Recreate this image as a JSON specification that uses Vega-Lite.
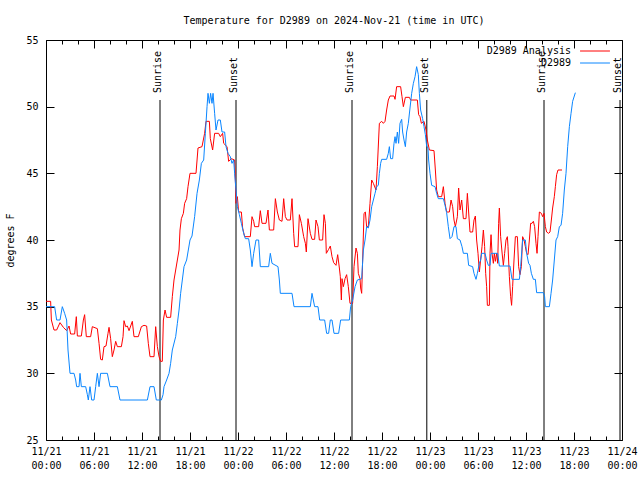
{
 "$schema": "https://vega.github.io/schema/vega-lite/v6.json",
 "width": 576,
 "height": 400,
 "autosize": {"type": "none"},
 "padding": {"left": 46, "top": 40, "right": 18, "bottom": 40},
 "background": "white",
 "title": {"text": "Temperature for D2989 on 2024-Nov-21 (time in UTC)", "font": "DejaVu Sans Mono", "fontSize": 10, "fontWeight": "normal", "anchor": "middle", "offset": 9, "color": "black"},
 "config": {
  "view": {"stroke": "black", "strokeWidth": 1},
  "font": "DejaVu Sans Mono",
  "axis": {"domainColor": "black", "tickColor": "black", "labelColor": "black", "titleColor": "black", "labelFont": "DejaVu Sans Mono", "titleFont": "DejaVu Sans Mono", "labelFontSize": 10, "titleFontSize": 10, "titleFontWeight": "normal", "grid": false}
 },
 "datasets": {
  "analysis": [
   {"hour":0,"degF":35.4},{"hour":0.58,"degF":35.4},{"hour":0.67,"degF":34.0},{"hour":1.0,"degF":33.25},{"hour":1.33,"degF":33.25},{"hour":1.75,"degF":33.8},{"hour":2.17,"degF":33.45},{"hour":2.58,"degF":33.2},{"hour":2.88,"degF":33.55},{"hour":3.08,"degF":32.95},{"hour":3.58,"degF":32.95},{"hour":3.79,"degF":34.25},{"hour":3.92,"degF":32.8},{"hour":4.42,"degF":32.8},{"hour":4.67,"degF":34.0},{"hour":4.83,"degF":34.4},{"hour":5.04,"degF":32.75},{"hour":5.58,"degF":32.75},{"hour":5.79,"degF":33.5},{"hour":6.42,"degF":33.35},{"hour":6.63,"degF":32.25},{"hour":6.83,"degF":31.05},{"hour":7.04,"degF":31.0},{"hour":7.25,"degF":32.0},{"hour":7.5,"degF":32.05},{"hour":7.75,"degF":33.0},{"hour":7.88,"degF":33.45},{"hour":8.08,"degF":32.6},{"hour":8.29,"degF":31.25},{"hour":8.5,"degF":31.75},{"hour":8.71,"degF":32.4},{"hour":8.92,"degF":32.0},{"hour":9.42,"degF":32.0},{"hour":9.63,"degF":32.75},{"hour":9.75,"degF":33.95},{"hour":9.96,"degF":33.5},{"hour":10.17,"degF":33.55},{"hour":10.38,"degF":33.2},{"hour":10.79,"degF":33.9},{"hour":11.0,"degF":32.75},{"hour":11.54,"degF":32.75},{"hour":11.92,"degF":33.5},{"hour":12.25,"degF":33.6},{"hour":12.58,"degF":33.55},{"hour":12.79,"degF":32.25},{"hour":13.0,"degF":31.25},{"hour":13.5,"degF":31.25},{"hour":13.71,"degF":33.5},{"hour":13.92,"degF":32.0},{"hour":14.13,"degF":31.25},{"hour":14.33,"degF":30.9},{"hour":14.54,"degF":30.9},{"hour":14.67,"degF":34.0},{"hour":14.88,"degF":34.75},{"hour":15.08,"degF":34.2},{"hour":15.58,"degF":34.2},{"hour":15.79,"degF":35.75},{"hour":16.0,"degF":37.0},{"hour":16.21,"degF":37.75},{"hour":16.42,"degF":38.5},{"hour":16.63,"degF":39.25},{"hour":16.75,"degF":40.75},{"hour":16.92,"degF":41.6},{"hour":17.17,"degF":42.0},{"hour":17.33,"degF":42.75},{"hour":17.58,"degF":43.1},{"hour":17.75,"degF":44.0},{"hour":18.0,"degF":45.0},{"hour":18.75,"degF":45.0},{"hour":19.0,"degF":46.9},{"hour":19.5,"degF":47.0},{"hour":19.83,"degF":48.0},{"hour":20.0,"degF":48.9},{"hour":20.42,"degF":48.9},{"hour":20.54,"degF":47.6},{"hour":20.83,"degF":46.75},{"hour":21.08,"degF":48.0},{"hour":21.58,"degF":48.0},{"hour":21.79,"degF":47.75},{"hour":22.08,"degF":48.0},{"hour":22.21,"degF":47.25},{"hour":22.63,"degF":47.0},{"hour":22.83,"degF":45.9},{"hour":23.17,"degF":46.1},{"hour":23.58,"degF":46.0},{"hour":23.67,"degF":44.5},{"hour":23.75,"degF":42.75},{"hour":23.92,"degF":43.25},{"hour":24.08,"degF":42.1},{"hour":24.42,"degF":42.1},{"hour":24.58,"degF":40.9},{"hour":24.83,"degF":40.25},{"hour":25.54,"degF":40.25},{"hour":25.75,"degF":41.75},{"hour":25.96,"degF":41.4},{"hour":26.08,"degF":41.0},{"hour":26.58,"degF":41.0},{"hour":26.79,"degF":42.2},{"hour":27.0,"degF":41.25},{"hour":27.5,"degF":41.25},{"hour":27.75,"degF":42.25},{"hour":27.92,"degF":40.75},{"hour":28.46,"degF":40.75},{"hour":28.67,"degF":43.1},{"hour":28.92,"degF":42.1},{"hour":29.17,"degF":41.5},{"hour":29.5,"degF":41.4},{"hour":29.71,"degF":43.1},{"hour":29.92,"degF":41.75},{"hour":30.13,"degF":41.5},{"hour":30.54,"degF":41.5},{"hour":30.75,"degF":43.1},{"hour":30.96,"degF":40.5},{"hour":31.08,"degF":39.5},{"hour":31.5,"degF":39.5},{"hour":31.67,"degF":41.9},{"hour":31.92,"degF":41.25},{"hour":32.21,"degF":40.25},{"hour":32.42,"degF":39.75},{"hour":32.54,"degF":39.1},{"hour":32.75,"degF":41.6},{"hour":33.04,"degF":40.5},{"hour":33.25,"degF":40.05},{"hour":33.58,"degF":40.05},{"hour":33.75,"degF":41.5},{"hour":34.0,"degF":41.0},{"hour":34.17,"degF":40.0},{"hour":34.58,"degF":40.0},{"hour":34.75,"degF":41.9},{"hour":34.92,"degF":41.25},{"hour":35.04,"degF":39.0},{"hour":35.33,"degF":39.3},{"hour":35.54,"degF":39.55},{"hour":35.75,"degF":38.75},{"hour":35.96,"degF":38.3},{"hour":36.25,"degF":38.1},{"hour":36.46,"degF":38.9},{"hour":36.67,"degF":37.9},{"hour":36.79,"degF":37.25},{"hour":36.92,"degF":35.5},{"hour":37.0,"degF":37.1},{"hour":37.17,"degF":36.5},{"hour":37.38,"degF":37.1},{"hour":37.58,"degF":37.4},{"hour":37.79,"degF":36.5},{"hour":38.0,"degF":35.25},{"hour":38.33,"degF":35.25},{"hour":38.5,"degF":38.0},{"hour":38.75,"degF":39.4},{"hour":38.92,"degF":39.0},{"hour":39.04,"degF":37.5},{"hour":39.25,"degF":37.1},{"hour":39.33,"degF":36.4},{"hour":39.46,"degF":36.0},{"hour":39.58,"degF":38.5},{"hour":39.75,"degF":42.0},{"hour":39.92,"degF":42.1},{"hour":40.08,"degF":41.0},{"hour":40.29,"degF":41.0},{"hour":40.5,"degF":42.75},{"hour":40.71,"degF":44.5},{"hour":40.92,"degF":44.25},{"hour":41.25,"degF":43.75},{"hour":41.42,"degF":45.5},{"hour":41.67,"degF":48.75},{"hour":41.96,"degF":48.9},{"hour":42.17,"degF":48.75},{"hour":42.38,"degF":48.9},{"hour":42.58,"degF":49.75},{"hour":42.79,"degF":50.5},{"hour":43.0,"degF":50.8},{"hour":43.5,"degF":50.8},{"hour":43.63,"degF":50.55},{"hour":43.83,"degF":51.5},{"hour":44.33,"degF":51.5},{"hour":44.5,"degF":50.75},{"hour":44.67,"degF":50.0},{"hour":44.92,"degF":50.7},{"hour":45.42,"degF":50.7},{"hour":45.58,"degF":50.5},{"hour":46.42,"degF":50.5},{"hour":46.58,"degF":49.4},{"hour":46.75,"degF":49.25},{"hour":46.92,"degF":48.75},{"hour":47.25,"degF":48.9},{"hour":47.5,"degF":48.25},{"hour":47.67,"degF":47.5},{"hour":47.92,"degF":46.75},{"hour":48.5,"degF":46.7},{"hour":48.67,"degF":45.25},{"hour":48.83,"degF":43.75},{"hour":49.04,"degF":43.25},{"hour":49.46,"degF":43.25},{"hour":49.67,"degF":44.0},{"hour":49.88,"degF":42.75},{"hour":50.08,"degF":42.1},{"hour":50.42,"degF":42.1},{"hour":50.63,"degF":43.0},{"hour":50.83,"degF":42.5},{"hour":51.0,"degF":41.5},{"hour":51.17,"degF":41.0},{"hour":51.42,"degF":41.75},{"hour":51.58,"degF":43.9},{"hour":51.75,"degF":42.25},{"hour":51.96,"degF":43.0},{"hour":52.17,"degF":41.6},{"hour":52.5,"degF":41.6},{"hour":52.67,"degF":43.5},{"hour":52.83,"degF":42.1},{"hour":53.0,"degF":40.6},{"hour":53.33,"degF":40.6},{"hour":53.5,"degF":41.5},{"hour":53.67,"degF":41.8},{"hour":53.83,"degF":40.0},{"hour":54.0,"degF":39.0},{"hour":54.17,"degF":37.6},{"hour":54.33,"degF":38.5},{"hour":54.5,"degF":39.5},{"hour":54.67,"degF":40.75},{"hour":54.83,"degF":39.5},{"hour":54.96,"degF":37.5},{"hour":55.08,"degF":36.5},{"hour":55.17,"degF":35.1},{"hour":55.42,"degF":35.1},{"hour":55.5,"degF":39.0},{"hour":55.63,"degF":40.4},{"hour":55.75,"degF":39.0},{"hour":55.92,"degF":38.25},{"hour":56.04,"degF":39.0},{"hour":56.17,"degF":38.4},{"hour":56.33,"degF":39.0},{"hour":56.46,"degF":38.25},{"hour":56.58,"degF":41.25},{"hour":56.67,"degF":42.4},{"hour":56.83,"degF":40.25},{"hour":57.0,"degF":39.1},{"hour":57.17,"degF":38.1},{"hour":57.33,"degF":39.0},{"hour":57.5,"degF":40.0},{"hour":57.67,"degF":40.25},{"hour":57.75,"degF":39.5},{"hour":57.92,"degF":37.25},{"hour":58.08,"degF":35.75},{"hour":58.2,"degF":35.1},{"hour":58.33,"degF":36.5},{"hour":58.5,"degF":38.5},{"hour":58.67,"degF":40.25},{"hour":58.92,"degF":40.25},{"hour":59.08,"degF":38.0},{"hour":59.25,"degF":37.4},{"hour":59.42,"degF":38.0},{"hour":59.58,"degF":40.25},{"hour":59.75,"degF":40.0},{"hour":59.92,"degF":39.5},{"hour":60.08,"degF":39.0},{"hour":60.25,"degF":38.9},{"hour":60.42,"degF":40.0},{"hour":60.58,"degF":41.25},{"hour":60.75,"degF":41.25},{"hour":60.92,"degF":41.4},{"hour":61.08,"degF":41.0},{"hour":61.25,"degF":39.75},{"hour":61.38,"degF":39.0},{"hour":61.5,"degF":40.25},{"hour":61.67,"degF":42.1},{"hour":61.92,"degF":42.0},{"hour":62.08,"degF":41.75},{"hour":62.25,"degF":42.0},{"hour":62.42,"degF":41.0},{"hour":62.58,"degF":40.6},{"hour":62.83,"degF":40.5},{"hour":63.0,"degF":40.6},{"hour":63.17,"degF":41.5},{"hour":63.33,"degF":42.4},{"hour":63.54,"degF":43.25},{"hour":63.67,"degF":44.0},{"hour":63.83,"degF":44.9},{"hour":64.0,"degF":45.25},{"hour":64.5,"degF":45.25}
  ],
  "station": [
   {"hour":0,"degF":35},{"hour":1.08,"degF":35},{"hour":1.33,"degF":34},{"hour":1.75,"degF":34},{"hour":2.04,"degF":35},{"hour":2.33,"degF":34.5},{"hour":2.58,"degF":34},{"hour":2.75,"degF":31.75},{"hour":3.0,"degF":30},{"hour":3.5,"degF":30},{"hour":3.71,"degF":29.5},{"hour":3.83,"degF":29},{"hour":4.13,"degF":29},{"hour":4.25,"degF":30},{"hour":4.42,"degF":29},{"hour":4.96,"degF":29},{"hour":5.17,"degF":28.4},{"hour":5.29,"degF":28},{"hour":5.5,"degF":29},{"hour":5.71,"degF":28},{"hour":6.0,"degF":28},{"hour":6.21,"degF":29},{"hour":6.42,"degF":30},{"hour":6.63,"degF":29},{"hour":6.83,"degF":30},{"hour":7.67,"degF":30},{"hour":8.0,"degF":29},{"hour":8.92,"degF":29},{"hour":9.25,"degF":28},{"hour":12.67,"degF":28},{"hour":13.0,"degF":29},{"hour":13.5,"degF":29},{"hour":13.79,"degF":28},{"hour":14.42,"degF":28},{"hour":14.63,"degF":28.4},{"hour":14.75,"degF":29},{"hour":15.08,"degF":29.5},{"hour":15.38,"degF":30},{"hour":15.58,"degF":30.75},{"hour":15.79,"degF":31.75},{"hour":16.21,"degF":32.75},{"hour":16.42,"degF":33.75},{"hour":16.63,"degF":34.75},{"hour":16.83,"degF":36},{"hour":17.04,"degF":37},{"hour":17.25,"degF":38},{"hour":17.58,"degF":38.5},{"hour":17.79,"degF":39.25},{"hour":18.0,"degF":40},{"hour":18.25,"degF":40.3},{"hour":18.58,"degF":41.75},{"hour":18.88,"degF":43.5},{"hour":19.17,"degF":44.5},{"hour":19.42,"degF":45.75},{"hour":19.71,"degF":46.0},{"hour":19.92,"degF":48},{"hour":20.13,"degF":50},{"hour":20.25,"degF":51},{"hour":20.42,"degF":50.25},{"hour":20.58,"degF":51},{"hour":20.75,"degF":50.25},{"hour":20.88,"degF":51},{"hour":21.08,"degF":49.5},{"hour":21.25,"degF":48.25},{"hour":21.5,"degF":49},{"hour":21.79,"degF":49},{"hour":22.0,"degF":48.1},{"hour":22.33,"degF":48.1},{"hour":22.5,"degF":47},{"hour":22.75,"degF":46.5},{"hour":23.04,"degF":46.25},{"hour":23.25,"degF":45.75},{"hour":23.46,"degF":46},{"hour":23.58,"degF":45},{"hour":23.75,"degF":43.75},{"hour":23.92,"degF":42.5},{"hour":24.17,"degF":41.9},{"hour":24.42,"degF":41.25},{"hour":24.71,"degF":40.5},{"hour":24.92,"degF":40.1},{"hour":25.33,"degF":40.1},{"hour":25.54,"degF":39.25},{"hour":25.75,"degF":38},{"hour":25.96,"degF":39},{"hour":26.25,"degF":40},{"hour":26.58,"degF":40},{"hour":26.79,"degF":38},{"hour":27.83,"degF":38},{"hour":28.04,"degF":39},{"hour":28.25,"degF":38.25},{"hour":29.0,"degF":38},{"hour":29.17,"degF":37},{"hour":29.29,"degF":36},{"hour":30.75,"degF":36},{"hour":31.0,"degF":35},{"hour":33.04,"degF":35},{"hour":33.25,"degF":36},{"hour":33.58,"degF":35},{"hour":34.0,"degF":35},{"hour":34.21,"degF":34},{"hour":34.83,"degF":34},{"hour":35.08,"degF":33},{"hour":35.33,"degF":33},{"hour":35.54,"degF":34},{"hour":35.75,"degF":34},{"hour":36.0,"degF":33},{"hour":36.58,"degF":33},{"hour":36.83,"degF":34},{"hour":37.92,"degF":34},{"hour":38.08,"degF":35},{"hour":38.33,"degF":35.5},{"hour":38.63,"degF":36.5},{"hour":38.92,"degF":37},{"hour":39.46,"degF":37.1},{"hour":39.67,"degF":39.25},{"hour":39.88,"degF":40},{"hour":40.08,"degF":41},{"hour":40.29,"degF":40.9},{"hour":40.5,"degF":41.5},{"hour":40.71,"degF":42.5},{"hour":40.92,"degF":43},{"hour":41.13,"degF":43.5},{"hour":41.33,"degF":44},{"hour":41.54,"degF":44.1},{"hour":41.67,"degF":45},{"hour":41.83,"degF":45.75},{"hour":41.96,"degF":46.05},{"hour":42.58,"degF":46.05},{"hour":42.79,"degF":46.5},{"hour":42.92,"degF":47},{"hour":43.08,"degF":46.1},{"hour":43.33,"degF":46.1},{"hour":43.5,"degF":47.25},{"hour":43.63,"degF":47.75},{"hour":43.75,"degF":47.25},{"hour":43.92,"degF":48.1},{"hour":44.08,"degF":47.25},{"hour":44.25,"degF":48.75},{"hour":44.46,"degF":49.05},{"hour":44.58,"degF":48.1},{"hour":44.75,"degF":47.5},{"hour":44.92,"degF":47},{"hour":45.08,"degF":48.1},{"hour":45.29,"degF":48.75},{"hour":45.5,"degF":49.9},{"hour":45.71,"degF":51},{"hour":45.92,"degF":51.75},{"hour":46.13,"degF":52.25},{"hour":46.33,"degF":53},{"hour":46.54,"degF":52.4},{"hour":46.67,"degF":51},{"hour":46.83,"degF":49.75},{"hour":47.08,"degF":49.1},{"hour":47.25,"degF":48.5},{"hour":47.42,"degF":47.9},{"hour":47.58,"degF":47.05},{"hour":47.75,"degF":46.9},{"hour":47.83,"degF":46},{"hour":48.0,"degF":45},{"hour":48.21,"degF":44.1},{"hour":48.63,"degF":44},{"hour":48.83,"degF":43.5},{"hour":49.04,"degF":43.1},{"hour":49.67,"degF":43.1},{"hour":49.88,"degF":42.6},{"hour":50.08,"degF":42.05},{"hour":50.29,"degF":41},{"hour":50.5,"degF":40.1},{"hour":50.75,"degF":40.25},{"hour":51.0,"degF":41},{"hour":51.25,"degF":41},{"hour":51.42,"degF":40.1},{"hour":51.75,"degF":40},{"hour":52.0,"degF":39.5},{"hour":52.17,"degF":39},{"hour":52.67,"degF":39},{"hour":52.83,"degF":38.1},{"hour":53.33,"degF":38},{"hour":53.5,"degF":37.5},{"hour":53.75,"degF":37.05},{"hour":53.92,"degF":37.5},{"hour":54.17,"degF":38.25},{"hour":54.33,"degF":38.5},{"hour":54.46,"degF":39},{"hour":54.88,"degF":39},{"hour":55.08,"degF":38.5},{"hour":55.29,"degF":38.1},{"hour":55.5,"degF":38.1},{"hour":55.63,"degF":39.0},{"hour":56.46,"degF":39.0},{"hour":56.67,"degF":38.05},{"hour":58.0,"degF":38.05},{"hour":58.25,"degF":37.05},{"hour":59.17,"degF":37.05},{"hour":59.33,"degF":38},{"hour":59.58,"degF":40},{"hour":59.92,"degF":40},{"hour":60.08,"degF":39},{"hour":60.33,"degF":38.25},{"hour":60.5,"degF":38.1},{"hour":60.67,"degF":37.5},{"hour":60.92,"degF":37.05},{"hour":61.17,"degF":37.05},{"hour":61.33,"degF":36.05},{"hour":62.17,"degF":36.05},{"hour":62.33,"degF":35.75},{"hour":62.42,"degF":35},{"hour":62.92,"degF":35},{"hour":63.13,"degF":36},{"hour":63.33,"degF":37},{"hour":63.54,"degF":38.5},{"hour":63.75,"degF":40},{"hour":63.96,"degF":40.25},{"hour":64.17,"degF":41},{"hour":64.38,"degF":41.1},{"hour":64.58,"degF":42},{"hour":64.79,"degF":43.75},{"hour":65.0,"degF":45},{"hour":65.21,"degF":47},{"hour":65.42,"degF":48.5},{"hour":65.63,"degF":49.5},{"hour":65.83,"degF":50.4},{"hour":66.17,"degF":51.05}
  ],
  "sun": [
   {"event":"Sunrise","hour":14.25},{"event":"Sunset","hour":23.75},
   {"event":"Sunrise","hour":38.25},{"event":"Sunset","hour":47.6},
   {"event":"Sunrise","hour":62.25},{"event":"Sunset","hour":71.75}
  ]
 },
 "layer": [
  {
   "data": {"name": "sun"},
   "mark": {"type": "rule", "color": "black", "strokeWidth": 1},
   "encoding": {
    "x": {"field": "hour", "type": "quantitative", "scale": {"domain": [0, 72], "nice": false, "zero": false}, "axis": null},
    "y": {"datum": 50.5, "type": "quantitative", "scale": {"domain": [25, 55], "nice": false, "zero": false}, "axis": null},
    "y2": {"datum": 25}
   }
  },
  {
   "data": {"name": "sun"},
   "mark": {"type": "text", "angle": 270, "align": "left", "baseline": "alphabetic", "dx": 7, "dy": 1, "font": "DejaVu Sans Mono", "fontSize": 10, "color": "black"},
   "encoding": {
    "x": {"field": "hour", "type": "quantitative", "axis": null},
    "y": {"datum": 50.5, "type": "quantitative", "axis": null},
    "text": {"field": "event"}
   }
  },
  {
   "data": {"name": "analysis"},
   "mark": {"type": "line", "strokeWidth": 1, "interpolate": "linear"},
   "encoding": {
    "x": {"field": "hour", "type": "quantitative", "title": null,
      "axis": {"orient": "bottom", "values": [0,2,4,6,8,10,12,14,16,18,20,22,24,26,28,30,32,34,36,38,40,42,44,46,48,50,52,54,56,58,60,62,64,66,68,70,72],
        "labelExpr": "datum.value % 6 === 0 ? ['11/' + (21 + floor(datum.value / 24)), (datum.value % 24 < 10 ? '0' : '') + (datum.value % 24) + ':00'] : ''",
        "tickSize": {"condition": {"test": "datum.value % 6 === 0", "value": -8}, "value": -4},
        "labelPadding": 14, "labelOverlap": false, "labelFlush": false, "labelBound": false, "labelLineHeight": 14, "domain": false}},
    "y": {"field": "degF", "type": "quantitative", "title": "degrees F",
      "axis": {"orient": "left", "values": [25,30,35,40,45,50,55], "tickSize": -8, "labelPadding": 16, "titlePadding": 10, "domain": false, "labelOverlap": false}},
    "color": {"datum": "D2989 Analysis", "type": "nominal",
      "scale": {"domain": ["D2989 Analysis", "D2989"], "range": ["#ff0000", "#0a86ff"]},
      "legend": {"orient": "none", "legendX": 542, "legendY": 4, "title": null, "symbolType": "M-2.3,0H2.3", "symbolSize": 169, "symbolStrokeWidth": 1, "labelAlign": "right", "labelBaseline": "middle", "labelOffset": -31, "labelFont": "DejaVu Sans Mono", "labelFontSize": 10, "labelColor": "black", "rowPadding": 0, "padding": 0, "labelLimit": 300}}
   }
  },
  {
   "data": {"name": "station"},
   "mark": {"type": "line", "strokeWidth": 1, "interpolate": "linear"},
   "encoding": {
    "x": {"field": "hour", "type": "quantitative", "title": null,
      "axis": {"orient": "top", "values": [0,2,4,6,8,10,12,14,16,18,20,22,24,26,28,30,32,34,36,38,40,42,44,46,48,50,52,54,56,58,60,62,64,66,68,70,72], "labels": false,
        "tickSize": {"condition": {"test": "datum.value % 6 === 0", "value": -8}, "value": -4}, "domain": false}},
    "y": {"field": "degF", "type": "quantitative", "title": null,
      "axis": {"orient": "right", "values": [25,30,35,40,45,50,55], "labels": false, "tickSize": -8, "domain": false}},
    "color": {"datum": "D2989", "type": "nominal"}
   }
  }
 ],
 "resolve": {"axis": {"x": "independent", "y": "independent"}}
}
